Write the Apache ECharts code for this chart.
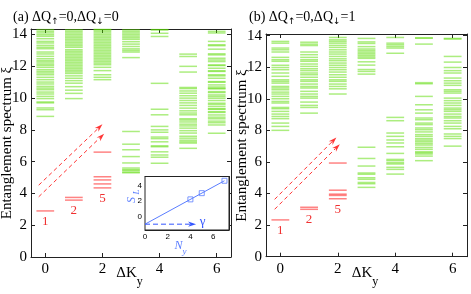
<!DOCTYPE html>
<html><head><meta charset="utf-8">
<script src="https://cdn.jsdelivr.net/npm/echarts@6/dist/echarts.min.js"></script>
<style>html,body{margin:0;padding:0;background:#fff}#c{width:471px;height:294px}</style>
</head><body><div id="c"></div>
<script>
// ---------- data ----------
const kTicks = [0, 2, 4, 6];
const yTicks = [0, 2, 4, 6, 8, 10, 12, 14];
const insetXTicks = [0, 2, 4, 6];
const insetYTicks = [0, 2, 4];

// panel (a): ΔQ↑=0, ΔQ↓=0 — green (high) levels per ΔK_y
const greenA0 = [8.85, 9.27, 9.38, 9.7, 9.76, 9.97, 10.11, 10.26, 10.38, 10.53, 10.63, 10.74, 10.89, 11.01, 11.16, 11.31, 11.47, 11.58, 11.68, 11.79, 11.94, 12.06, 12.15, 12.27, 12.36, 12.48, 12.63, 12.78, 12.9, 13.11, 13.2, 13.32, 13.47, 13.57, 13.74, 13.89, 13.99, 14.1, 14.2, 14.31];
const greenA1 = [9.97, 10.3, 10.5, 10.72, 10.94, 11.1, 11.25, 11.4, 11.55, 11.65, 11.75, 11.85, 11.95, 12.05, 12.15, 12.25, 12.35, 12.45, 12.55, 12.65, 12.75, 12.85, 12.95, 13.05, 13.2, 13.3, 13.4, 13.5, 13.6, 13.7, 13.8, 13.9, 14.0, 14.1, 14.2, 14.3];
const greenA2 = [11.16, 11.31, 11.47, 11.73, 11.94, 12.1, 12.2, 12.3, 12.4, 12.5, 12.6, 12.7, 12.8, 12.9, 13.0, 13.1, 13.2, 13.3, 13.4, 13.5, 13.6, 13.7, 13.8, 13.9, 14.0, 14.1, 14.2, 14.3, 14.32];
const greenA3 = [5.3, 5.35, 5.45, 5.5, 5.6, 5.92, 6.32, 6.75, 7.1, 7.9, 12.55, 12.9, 13.0, 13.1, 13.25, 13.4, 13.55, 13.7, 13.8, 13.9, 14.0, 14.1, 14.2, 14.3];
const greenA4 = [5.9, 6.28, 6.42, 6.62, 6.94, 7.0, 7.25, 7.45, 7.55, 7.85, 8.0, 8.22, 8.95, 9.3, 10.93, 13.88, 14.08, 14.3, 14.31];
const greenA5 = [6.84, 7.17, 7.25, 7.35, 7.48, 7.6, 7.8, 7.95, 8.11, 8.25, 8.36, 8.5, 8.62, 8.7, 8.95, 9.06, 9.2, 9.37, 9.54, 9.7, 9.85, 10.0, 10.15, 10.31, 10.45, 10.6, 10.67, 11.64, 12.0, 12.62, 12.77];
const greenA6 = [7.79, 8.31, 8.45, 8.55, 8.7, 8.8, 8.94, 9.1, 9.15, 9.3, 9.33, 9.47, 9.6, 9.68, 9.85, 9.99, 10.1, 10.2, 10.35, 10.41, 10.58, 10.62, 10.7, 10.83, 11.0, 11.04, 11.25, 11.4, 11.47, 11.68, 11.72, 11.88, 12.05, 12.09, 12.3, 12.4, 12.51, 12.72, 12.79, 13.08, 13.3, 13.36, 13.57, 14.1, 14.2];
// panel (a): red (low-lying) levels
const redA0 = [2.9];
const redA1 = [3.58, 3.75];
const redA2 = [4.35, 4.6, 4.85, 5.05, 6.6];
// panel (a): dashed arrows [x0, y0, x1, y1]
const arrowsA = [[-0.23, 4.52, 2.0, 8.35], [-0.23, 3.79, 2.06, 7.76]];

// panel (b): ΔQ↑=0, ΔQ↓=1
const greenB0 = [8.0, 8.25, 8.46, 8.74, 8.88, 9.03, 9.2, 9.37, 9.45, 9.73, 9.83, 10.0, 10.15, 10.3, 10.42, 10.57, 10.68, 10.78, 10.99, 11.1, 11.2, 11.42, 11.63, 11.84, 11.98, 12.12, 12.37, 12.47, 12.62, 12.96, 13.1, 13.21, 13.52, 13.63];
const greenB1 = [9.09, 9.45, 9.58, 9.79, 10.04, 10.15, 10.3, 10.47, 10.68, 10.78, 10.93, 11.1, 11.2, 11.36, 11.52, 11.63, 11.78, 11.9, 12.05, 12.2, 12.37, 12.47, 12.62, 12.79, 12.96, 13.37, 13.46, 13.58];
const greenB2 = [10.3, 10.63, 10.78, 10.93, 11.1, 11.2, 11.36, 11.52, 11.69, 11.84, 11.98, 12.12, 12.26, 12.41, 12.53, 12.68, 12.83, 12.96, 13.1, 13.25, 13.38, 13.52, 13.63, 13.73, 13.88];
const greenB3 = [4.39, 4.62, 4.7, 4.9, 5.0, 5.22, 5.3, 5.74, 6.22, 6.93, 11.56, 11.73, 11.85, 12.13, 12.34, 12.56, 12.65, 12.75, 12.85, 12.95, 13.05, 13.15, 13.3, 13.5, 13.6, 13.82];
const greenB4 = [5.23, 5.53, 5.66, 5.87, 5.95, 6.08, 6.16, 6.54, 6.96, 7.2, 7.39, 7.62, 7.83, 8.61, 8.82, 12.88, 13.21, 13.31, 13.42, 13.52, 13.88];
const greenB5 = [6.08, 6.37, 6.5, 6.58, 6.65, 6.8, 6.92, 7.07, 7.17, 7.28, 7.38, 7.48, 7.62, 7.73, 7.9, 8.04, 8.15, 8.36, 8.46, 8.67, 8.78, 9.09, 9.3, 9.62, 10.15, 10.95, 11.02, 13.46, 13.84, 13.85];
const greenB6 = [7.0, 7.48, 7.62, 7.77, 8.1, 8.25, 8.46, 8.61, 8.78, 8.88, 9.03, 9.2, 9.31, 9.41, 9.58, 9.73, 9.88, 10.04, 10.36, 10.47, 10.57, 10.85, 10.99, 11.14, 11.31, 11.63, 11.78, 11.98, 12.32, 12.68, 13.78, 13.82];
const redB0 = [2.33];
const redB1 = [3.0, 3.13];
const redB2 = [3.67, 3.88, 3.96, 4.21, 5.93];
const arrowsB = [[-0.2, 3.63, 1.95, 7.55], [-0.2, 3.0, 2.07, 7.12]];

// counting of low-lying levels
const countText = ['1', '2', '5'];

// inset: S_L versus N_y
const insetNy = [4, 5, 7];
const insetSL = [2.2, 3.0, 4.6];
const fitNy = [0, 7];
const fitSL = [-1.0, 4.6];
const gammaArrow = [[0, -1.0, 4.5, -1.0]];

// ---------- build ----------
const HW = 0.31;
const SERIF = '"Liberation Serif","Times New Roman",serif';
const GREEN = 'rgba(90,220,0,0.5)';
const RED = 'rgba(255,30,30,0.55)';
const BLUE = '#5a7dff';

function pairs(cols) {
  const out = [];
  cols.forEach((vals, k) => vals.forEach(v => out.push([k, v])));
  return out;
}
function segSeries(name, cols, axisIdx, color) {
  return {
    type: 'custom', name, xAxisIndex: axisIdx, yAxisIndex: axisIdx, data: pairs(cols), z: 3,
    renderItem: (params, api) => {
      const k = api.value(0), v = api.value(1);
      const p1 = api.coord([k - HW, v]), p2 = api.coord([k + HW, v]);
      return { type: 'line', shape: { x1: p1[0], y1: p1[1], x2: p2[0], y2: p2[1] },
               style: { stroke: color, lineWidth: 1.5 } };
    }
  };
}
function countSeries(reds, axisIdx) {
  const data = reds.map((vals, k) => [k, Math.min(...vals) - 0.68, countText[k]]);
  return {
    type: 'custom', xAxisIndex: axisIdx, yAxisIndex: axisIdx, data, z: 4,
    renderItem: (params, api) => {
      const p = api.coord([api.value(0), api.value(1)]);
      return { type: 'text', x: p[0], y: p[1],
               style: { text: data[params.dataIndex][2], fill: '#f03030', font: '13px ' + SERIF,
                        align: 'center', verticalAlign: 'middle' } };
    }
  };
}
function arrowSeries(arrows, axisIdx, color, dashLen, gapLen, z) {
  return {
    type: 'custom', xAxisIndex: axisIdx, yAxisIndex: axisIdx, data: arrows, z: z || 4,
    renderItem: (params, api) => {
      const a = api.coord([api.value(0), api.value(1)]);
      const b = api.coord([api.value(2), api.value(3)]);
      const dx = b[0] - a[0], dy = b[1] - a[1], L = Math.hypot(dx, dy);
      const ux = dx / L, uy = dy / L, hl = 8, hw = 2.6;
      const base = [b[0] - ux * hl, b[1] - uy * hl];
      const children = [];
      const stop = L - hl + 2;
      for (let s = 0; s < stop; s += dashLen + gapLen) {
        const e = Math.min(s + dashLen, stop);
        children.push({ type: 'line', shape: { x1: a[0] + ux * s, y1: a[1] + uy * s, x2: a[0] + ux * e, y2: a[1] + uy * e },
          style: { stroke: color, lineWidth: 1 } });
      }
      children.push({ type: 'polygon', shape: { points: [b, [base[0] - uy * hw, base[1] + ux * hw], [b[0] - ux * hl * 0.7, b[1] - uy * hl * 0.7], [base[0] + uy * hw, base[1] - ux * hw]] },
          style: { fill: color } });
      return { type: 'group', children };
    }
  };
}
function mainX(gi, pos, showLabel) {
  return {
    type: 'value', gridIndex: gi, position: pos, min: -0.5, max: 6.5,
    axisLine: { show: true, onZero: false, lineStyle: { color: '#222', width: 1 } },
    axisTick: { show: true, inside: true, length: 4, customValues: kTicks, lineStyle: { color: '#222' } },
    axisLabel: { show: showLabel, customValues: kTicks, color: '#000', fontSize: 15, fontFamily: SERIF, margin: 5 },
    splitLine: { show: false }
  };
}
function mainY(gi, pos, showLabel, max) {
  return {
    type: 'value', gridIndex: gi, position: pos, min: 0, max,
    axisLine: { show: true, onZero: false, lineStyle: { color: '#222', width: 1 } },
    axisTick: { show: true, inside: true, length: 4, customValues: yTicks, lineStyle: { color: '#222' } },
    axisLabel: { show: showLabel, customValues: yTicks, color: '#000', fontSize: 15, fontFamily: SERIF, margin: 4 },
    splitLine: { show: false }
  };
}
function insetAxis(pos, showLabel, min, max, ticks) {
  return {
    type: 'value', gridIndex: 2, position: pos, min, max,
    axisLine: { show: true, onZero: false, lineStyle: { color: '#222', width: 1 } },
    axisTick: { show: true, inside: true, length: 2.5, customValues: ticks, lineStyle: { color: '#222' } },
    axisLabel: { show: showLabel, customValues: ticks, color: '#000', fontSize: 8, fontFamily: '"Liberation Sans",Arial,sans-serif', margin: 3 },
    splitLine: { show: false }
  };
}

const chart = echarts.init(document.getElementById('c'), null, { renderer: 'canvas' });

// text helpers
const ARROWF = '"DejaVu Sans",sans-serif';
const cv = document.createElement('canvas').getContext('2d');
function tw(t, size, fam) { cv.font = size + 'px ' + (fam || SERIF); return cv.measureText(t).width; }
function txt(t, x, y, size, opts) {
  opts = opts || {};
  return { type: 'text', x, y, rotation: opts.rot || 0, z: 10,
    style: { text: t, fill: opts.color || '#000', font: (opts.style || '') + ' ' + size + 'px ' + (opts.fam || SERIF),
             align: opts.align || 'left', verticalAlign: 'middle' } };
}
function title(prefix, up, down, x0) {
  const out = []; let x = x0;
  const parts = [[prefix + ' ΔQ', 14, 0, SERIF], ['↑', 9, 5, ARROWF], ['=' + up + ',ΔQ', 14, 0, SERIF], ['↓', 9, 5, ARROWF], ['=' + down, 14, 0, SERIF]];
  parts.forEach(p => { out.push(txt(p[0], x, 17 + p[2], p[1], { fam: p[3] })); x += tw(p[0], p[1], p[3]); });
  return out;
}
function xName(cx) {
  const w1 = tw('ΔK', 15), w2 = tw('y', 12);
  const x0 = cx - (w1 + w2) / 2;
  return [txt('ΔK', x0, 273, 15), txt('y', x0 + w1, 282, 12)];
}

const graphics = [].concat(
  title('(a)', '0', '0', 13),
  title('(b)', '0', '1', 249),
  xName(129.5), xName(365),
  [txt('Entanglement spectrum ξ', 7, 143, 15, { rot: Math.PI / 2, align: 'center' }),
   txt('Entanglement spectrum ξ', 242, 145.5, 15, { rot: Math.PI / 2, align: 'center' }),
   txt('S', 132, 200, 12, { rot: Math.PI / 2, align: 'center', style: 'italic', color: BLUE }),
   txt('L', 137, 192, 9, { rot: Math.PI / 2, align: 'center', style: 'italic', color: BLUE }),
   txt('N', 178.5, 246, 12, { align: 'center', style: 'italic', color: BLUE }),
   txt('y', 184.5, 252, 9, { align: 'center', style: 'italic', color: BLUE }),
   txt('γ', 202.5, 221.5, 13, { align: 'center', color: '#3355ff' })]
);

const option = {
  animation: false,
  backgroundColor: '#fff',
  grid: [
    { left: 31, top: 29, width: 200, height: 228, show: false },
    { left: 266, top: 34, width: 201, height: 222.7, show: false },
    { left: 145, top: 176.5, width: 84, height: 53.5, show: true, backgroundColor: '#fff', borderColor: '#222', borderWidth: 1, z: 5 }
  ],
  xAxis: [mainX(0, 'bottom', true), mainX(0, 'top', false), mainX(1, 'bottom', true), mainX(1, 'top', false),
          insetAxis('bottom', true, 0, 7.4, insetXTicks), insetAxis('top', false, 0, 7.4, insetXTicks)],
  yAxis: [mainY(0, 'left', true, 14.35), mainY(0, 'right', false, 14.35), mainY(1, 'left', true, 14.1), mainY(1, 'right', false, 14.1),
          insetAxis('left', true, -1.75, 5.15, insetYTicks), insetAxis('right', false, -1.75, 5.15, insetYTicks)],
  series: [
    segSeries('greenA', [greenA0, greenA1, greenA2, greenA3, greenA4, greenA5, greenA6], 0, GREEN),
    segSeries('redA', [redA0, redA1, redA2], 0, RED),
    countSeries([redA0, redA1, redA2], 0),
    arrowSeries(arrowsA, 0, '#ff3535', 4, 3),
    segSeries('greenB', [greenB0, greenB1, greenB2, greenB3, greenB4, greenB5, greenB6], 2, GREEN),
    segSeries('redB', [redB0, redB1, redB2], 2, RED),
    countSeries([redB0, redB1, redB2], 2),
    arrowSeries(arrowsB, 2, '#ff3535', 4, 3),
    { type: 'line', xAxisIndex: 4, yAxisIndex: 4, data: fitNy.map((x, i) => [x, fitSL[i]]), symbol: 'none',
      lineStyle: { color: BLUE, width: 1 }, z: 6 },
    { type: 'scatter', xAxisIndex: 4, yAxisIndex: 4, data: insetNy.map((x, i) => [x, insetSL[i]]), symbol: 'rect', symbolSize: 5,
      itemStyle: { color: 'rgba(255,255,255,0)', borderColor: BLUE, borderWidth: 1 }, z: 7 },
    arrowSeries(gammaArrow, 4, '#3355ff', 5, 3, 7)
  ],
  graphic: graphics
};
chart.setOption(option);
</script></body></html>
